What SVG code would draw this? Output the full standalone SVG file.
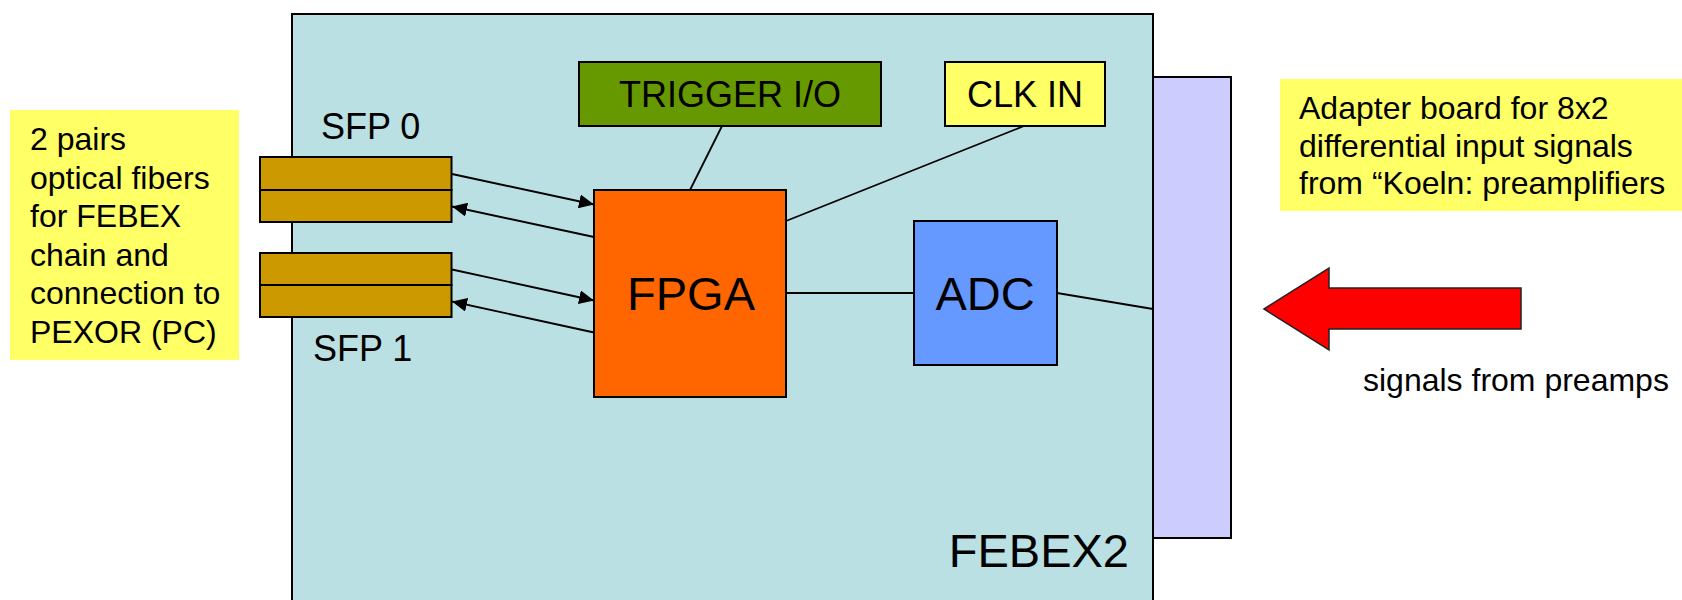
<svg xmlns="http://www.w3.org/2000/svg" width="1682" height="600" viewBox="0 0 1682 600">
<defs>
<style>
.t{font-family:"Liberation Sans",Arial,sans-serif;fill:#000}
.b{stroke:#000;stroke-width:2}
.c{stroke:#000;stroke-width:1.8;fill:none}
</style>
<marker id="ah" viewBox="0 0 15 14" refX="15" refY="7" markerWidth="15" markerHeight="14" markerUnits="userSpaceOnUse" orient="auto">
<path d="M0,0 L15,7 L0,14 Z" fill="#000"/>
</marker>
</defs>
<rect width="1682" height="600" fill="#fff"/>
<g id="board">
<rect x="292" y="14" width="861" height="600" fill="#BBE0E3" class="b"/>
<text x="1129" y="567" font-size="47" text-anchor="end" class="t">FEBEX2</text>
</g>
<g id="adapter">
<rect x="1153" y="77" width="78" height="461" fill="#CCCCFF" class="b"/>
</g>
<g id="note-left">
<rect x="10" y="110" width="229" height="250" fill="#FFFF66"/>
<text class="t" font-size="32"><tspan x="30" y="150">2 pairs</tspan><tspan x="30" y="188.5">optical fibers</tspan><tspan x="30" y="227">for FEBEX</tspan><tspan x="30" y="265.5">chain and</tspan><tspan x="30" y="304">connection to</tspan><tspan x="30" y="342.5">PEXOR (PC)</tspan></text>
</g>
<g id="note-right">
<rect x="1280" y="79" width="402" height="132" fill="#FFFF66"/>
<text class="t" font-size="32"><tspan x="1299" y="119">Adapter board for 8x2</tspan><tspan x="1299" y="156.5">differential input signals</tspan><tspan x="1299" y="194">from “Koeln: preamplifiers</tspan></text>
</g>
<g id="sfp0">
<rect x="260" y="157" width="191.5" height="33" fill="#CC9900" class="b"/>
<rect x="260" y="190" width="191.5" height="32" fill="#CC9900" class="b"/>
<text x="321" y="139" font-size="36" class="t">SFP 0</text>
</g>
<g id="sfp1">
<rect x="260" y="253" width="191.5" height="32" fill="#CC9900" class="b"/>
<rect x="260" y="285" width="191.5" height="32" fill="#CC9900" class="b"/>
<text x="313" y="361" font-size="36" class="t">SFP 1</text>
</g>
<g id="trigger">
<rect x="579" y="62" width="302" height="64" fill="#669900" class="b"/>
<text x="730" y="107" font-size="36" text-anchor="middle" class="t">TRIGGER I/O</text>
</g>
<g id="clk">
<rect x="945" y="62" width="160" height="64" fill="#FFFF66" class="b"/>
<text x="1025" y="107" font-size="36" text-anchor="middle" class="t">CLK IN</text>
</g>
<g id="fpga">
<rect x="594" y="190" width="192" height="207" fill="#FF6600" class="b"/>
<text x="691" y="310" font-size="47" text-anchor="middle" class="t">FPGA</text>
</g>
<g id="adc">
<rect x="914" y="221" width="143" height="144" fill="#6699FF" class="b"/>
<text x="985" y="310" font-size="47" text-anchor="middle" class="t">ADC</text>
</g>
<g id="input-arrow">
<polygon points="1264,309 1329,268 1329,288 1521,288 1521,329 1329,329 1329,350" fill="#FF0000" stroke="#222" stroke-width="1.5"/>
<text x="1363" y="391" font-size="32" class="t">signals from preamps</text>
</g>
<g id="connectors">
<line x1="452" y1="174" x2="594" y2="204.5" class="c" marker-end="url(#ah)"/>
<line x1="594" y1="237" x2="452" y2="206.5" class="c" marker-end="url(#ah)"/>
<line x1="452" y1="269.5" x2="594" y2="300.5" class="c" marker-end="url(#ah)"/>
<line x1="594" y1="332.5" x2="452" y2="301.5" class="c" marker-end="url(#ah)"/>
<line x1="722" y1="126" x2="690" y2="190" class="c"/>
<line x1="1024" y1="126" x2="786" y2="221" class="c"/>
<line x1="786" y1="293" x2="914" y2="293" class="c"/>
<line x1="1057" y1="293" x2="1153" y2="309" class="c"/>
</g>
</svg>
